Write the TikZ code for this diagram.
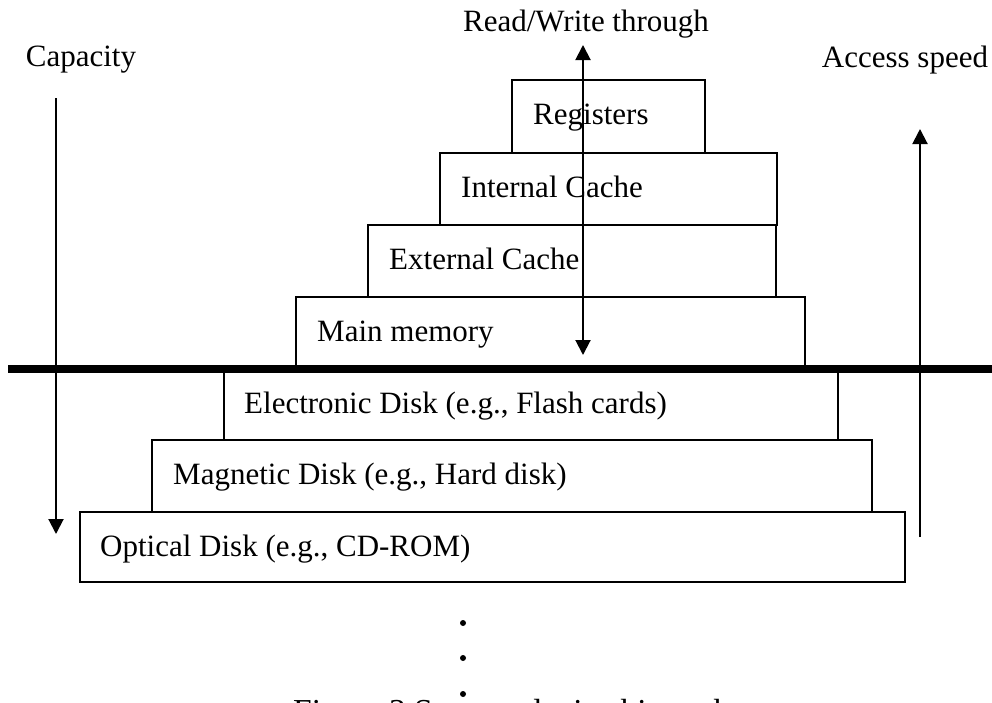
\documentclass[tikz,border=0pt]{standalone}
\usepackage{fontspec}
\setmainfont{Liberation Serif}
\usetikzlibrary{arrows.meta}
\begin{document}
\begin{tikzpicture}[x=1pt,y=-1pt,
  tier/.style={draw, line width=2pt, rectangle, anchor=north west,
    inner sep=0pt, outer sep=0pt},
  lbl/.style={anchor=base west, inner sep=0pt, font=\fontsize{31}{36}\selectfont},
  axislbl/.style={inner sep=0pt, font=\fontsize{31}{36}\selectfont},
  figcap/.style={anchor=base west, inner sep=0pt, font=\fontsize{33.5}{38}\selectfont},
  flow/.style={line width=2pt, -{Triangle[length=15pt,width=15pt]}},
  both/.style={line width=2pt, {Triangle[length=15pt,width=15pt]}-{Triangle[length=15pt,width=15pt]}},
  dotmark/.style={circle, fill, inner sep=0pt, minimum size=6pt}]
\useasboundingbox (0,0) rectangle (992,702);
\clip (0,0) rectangle (992,702);

% upper tiers (above the divider)
\node[tier, minimum width=193pt, minimum height=73pt] (reg) at (512,80) {};
\node[tier, minimum width=337pt, minimum height=72pt] (ic)  at (440,153) {};
\node[tier, minimum width=408pt, minimum height=72pt] (ec)  at (368,225) {};
\node[tier, minimum width=509pt, minimum height=72pt] (mm)  at (296,297) {};

% lower tiers (below the divider)
\node[tier, minimum width=614pt, minimum height=71pt] (ed) at (224,369) {};
\node[tier, minimum width=720pt, minimum height=72pt] (md) at (152,440) {};
\node[tier, minimum width=825pt, minimum height=70pt] (od) at (80,512) {};

% tier labels
\node[lbl] (regl) at ([xshift=21pt,yshift=-44pt]reg.north west) {Registers};
\node[lbl] (icl)  at ([xshift=21pt,yshift=-44pt]ic.north west) {Internal Cache};
\node[lbl] (ecl)  at ([xshift=21pt,yshift=-44pt]ec.north west) {External Cache};
\node[lbl] (mml)  at ([xshift=21pt,yshift=-44pt]mm.north west) {Main memory};
\node[lbl] (edl)  at ([xshift=20pt,yshift=-44pt]ed.north west) {Electronic Disk (e.g., Flash cards)};
\node[lbl] (mdl)  at ([xshift=21pt,yshift=-44pt]md.north west) {Magnetic Disk (e.g., Hard disk)};
\node[lbl] (odl)  at ([xshift=20pt,yshift=-44pt]od.north west) {Optical Disk (e.g., CD-ROM)};

% divider between primary and secondary storage
\coordinate (divL) at (8,369);
\coordinate (divR) at (992,369);
\draw[line width=8pt] (divL) -- (divR);

% axis captions
\node[axislbl] (capt) at (81,60) {Capacity};
\node[axislbl] (spd)  at (905,60) {Access speed};
\node[axislbl] (rw)   at (586,24) {Read/Write through};

% axis arrows
\coordinate (capTop) at (56,98);
\coordinate (capBot) at (56,534);
\draw[flow] (capTop) -- (capBot);
\coordinate (spdBot) at (920,537);
\coordinate (spdTop) at (920,129);
\draw[flow] (spdBot) -- (spdTop);
\coordinate (rwTop) at (583,45);
\coordinate (rwBot) at (583,355);
\draw[both] (rwBot) -- (rwTop);

% continuation dots
\node[dotmark] (d1) at (463,623) {};
\node[dotmark] (d2) at (463,658) {};
\node[dotmark] (d3) at (463,694) {};

% figure caption, running off the lower edge of the page
\node[figcap] (fig) at (293,722) {Figure 3 Storage device hierarchy};
\end{tikzpicture}
\end{document}
